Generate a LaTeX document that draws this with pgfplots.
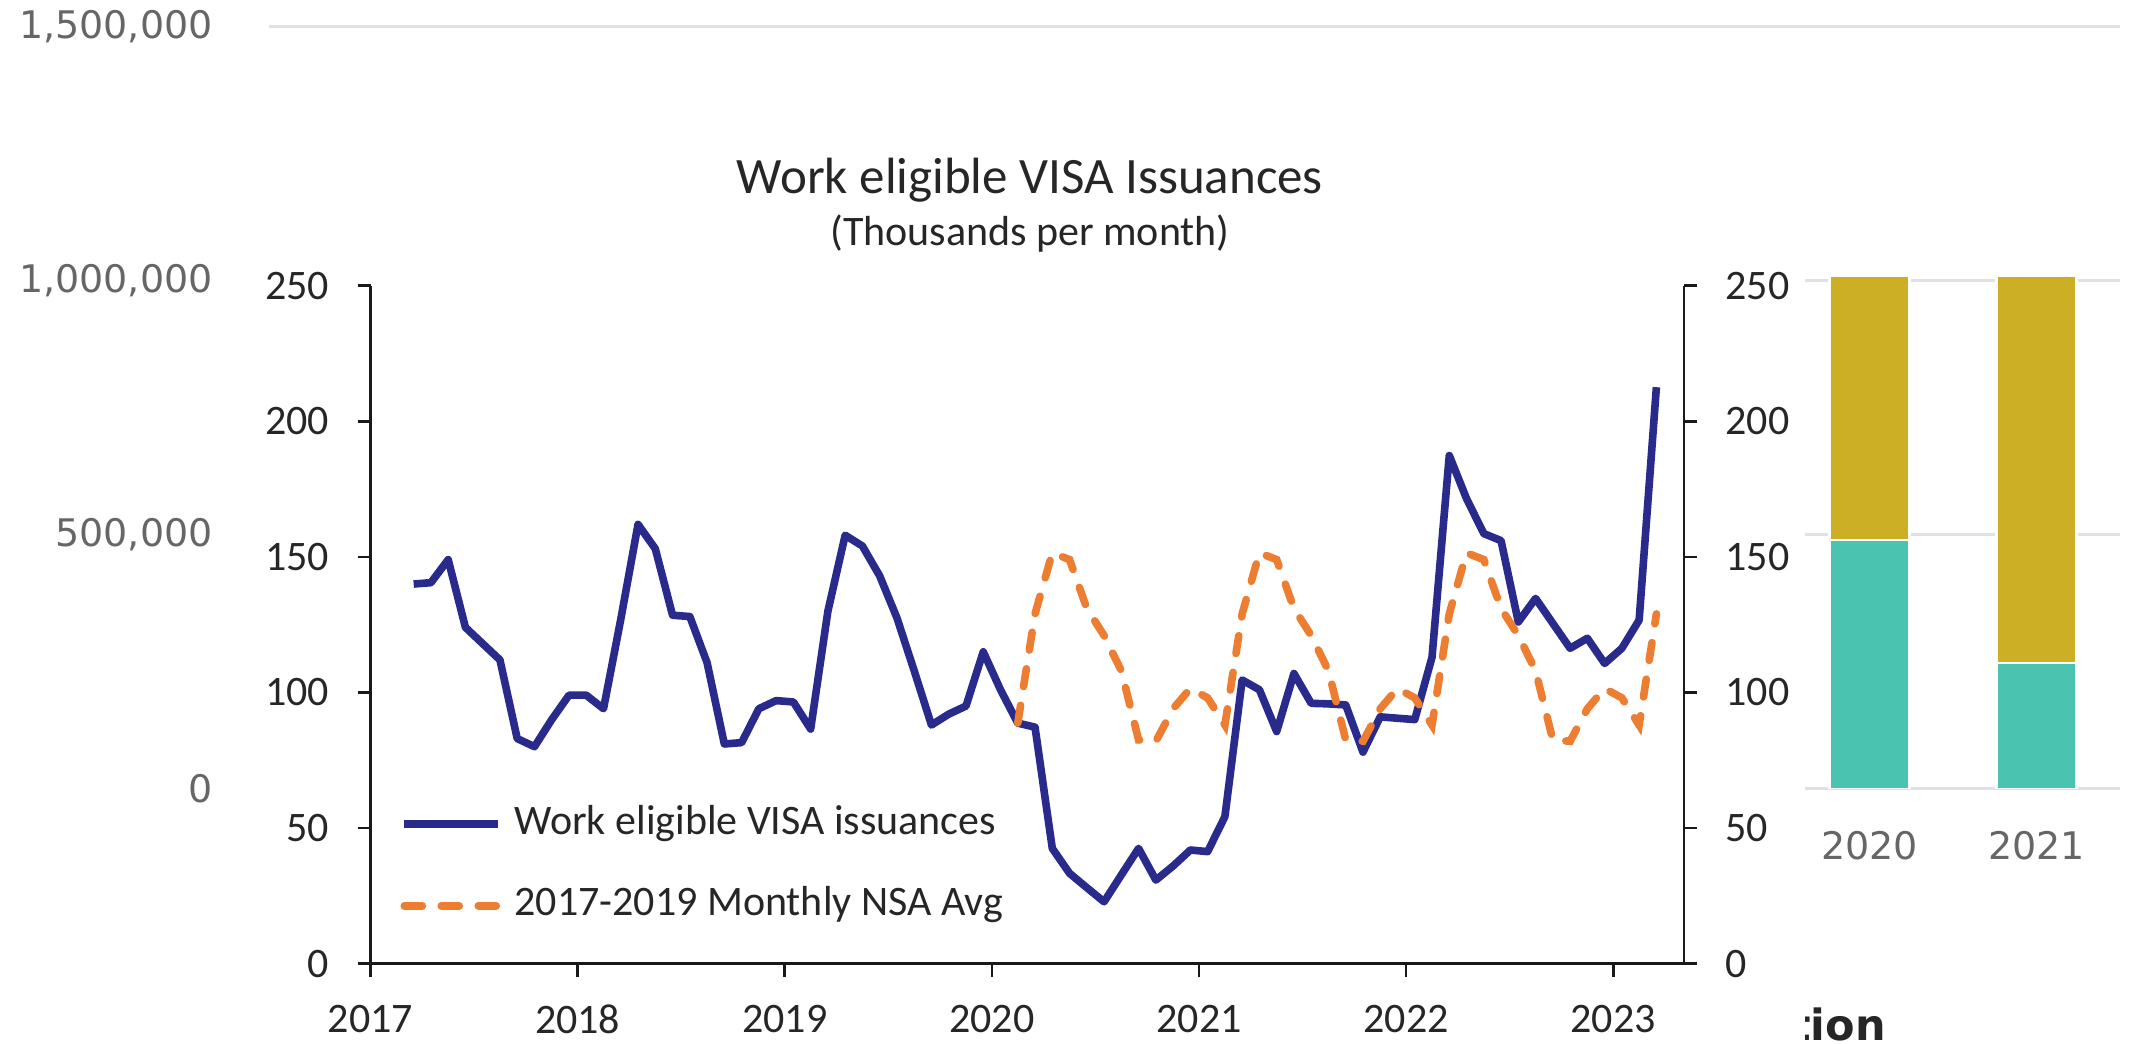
\documentclass[border=0pt]{standalone}
\usepackage{fontspec}
\usepackage{pgfplots}
\pgfplotsset{compat=1.18}
\newfontfamily\calib{Carlito}
\newfontfamily\dejavu{DejaVu Sans}
\definecolor{navyline}{RGB}{40,42,140}
\definecolor{orangeline}{RGB}{237,125,49}
\definecolor{goldbar}{RGB}{205,175,37}
\definecolor{tealbar}{RGB}{74,196,177}
\definecolor{gridgray}{RGB}{224,224,230}
\definecolor{labgray}{RGB}{102,102,102}

% monthly values, x = months since Jan 2017 (mid-month)
\pgfplotstableread{
x y
2.5 140
3.5 140.5
4.5 149
5.5 124
6.5 118
7.5 112
8.5 83
9.5 80
10.5 90
11.5 99
12.5 99
13.5 94
14.5 127
15.5 162
16.5 153
17.5 128.5
18.5 128
19.5 111
20.5 81
21.5 81.5
22.5 94
23.5 97
24.5 96.5
25.5 86.5
26.5 130
27.5 158
28.5 154
29.5 143
30.5 127.5
31.5 108
32.5 88
33.5 92
34.5 95
35.5 115
36.5 101
37.5 88.7
38.5 87.2
39.5 42.5
40.5 33.3
41.5 28
42.5 22.8
43.5 32.7
44.5 42.5
45.5 30.8
46.5 36
47.5 41.9
48.5 41.3
49.5 54.2
50.5 104.6
51.5 101
52.5 85.6
53.5 107
54.5 96
55.5 95.8
56.5 95.4
57.5 78
58.5 91
59.5 90.5
60.5 90
61.5 113
62.5 187.4
63.5 171.5
64.5 158.6
65.5 156
66.5 126
67.5 134.7
68.5 125.5
69.5 116.3
70.5 120
71.5 110.7
72.5 116.3
73.5 126.7
74.5 212.6
}\visas

\pgfplotstableread{
x y
37.5 88.7
38.5 129
39.5 151.5
40.5 149
41.5 131
42.5 121
43.5 108
44.5 82.5
45.5 82
46.5 94
47.5 101.5
48.5 98
49.5 88
50.5 129
51.5 151.5
52.5 149
53.5 131
54.5 121
55.5 108
56.5 82.5
57.5 82
58.5 94
59.5 101.5
60.5 98
61.5 88
62.5 129
63.5 151.5
64.5 149
65.5 131
66.5 121
67.5 108
68.5 82.5
69.5 82
70.5 94
71.5 101.5
72.5 98
73.5 88
74.5 129
}\avg

\begin{document}
\begin{tikzpicture}
\useasboundingbox (0,0) rectangle (1067pt,521.5pt);

% chart in the background
\begin{axis}[
  at={(134.5pt,127pt)}, anchor=south west, scale only axis,
  width=925.5pt, height=381pt,
  xmin=2010.42, xmax=2021.5, ymin=0, ymax=1500000,
  ybar stacked, bar width=40pt,
  axis line style={draw=none}, major tick length=0pt,
  scaled y ticks=false,
  ytick={0,500000,1000000,1500000},
  yticklabels={0,{500,000},{1,000,000},{1,500,000}},
  xtick={2020,2021}, xticklabels={2020,2021},
  ymajorgrids, major grid style={gridgray, line width=1.5pt},
  tick label style={font=\dejavu\fontsize{19}{22}\selectfont, text=labgray, inner sep=0pt},
  yticklabel style={anchor=east, xshift=-28pt},
  xticklabel style={anchor=north, yshift=-21pt},
]
\addplot[fill=tealbar, draw=white, line width=1.2pt] coordinates {(2020,489600) (2021,248000)};
\addplot[fill=goldbar, draw=white, line width=1.2pt] coordinates {(2020,520400) (2021,762000)};
\end{axis}

\node[anchor=base west, font=\dejavu\bfseries\fontsize{21.5}{25}\selectfont, text=black!85, inner sep=0pt] at (895pt,1.5pt) {tion};

% pasted line chart
\fill[white] (117.5pt,0pt) rectangle (902.5pt,491.5pt);

\node[anchor=base, font=\calib\fontsize{25.5}{30}\selectfont, text=black!85] at (515pt,424.8pt) {Work eligible VISA Issuances};
\node[anchor=base, font=\calib\fontsize{21}{25}\selectfont, text=black!85] at (515pt,398.5pt) {(Thousands per month)};

\begin{axis}[
  at={(185.25pt,39.7pt)}, anchor=south west, scale only axis,
  width=656.75pt, height=338.9pt,
  xmin=0, xmax=76.1, ymin=0, ymax=250,
  axis x line*=bottom, axis y line*=left,
  axis line style={-, line width=1.3pt, black!90},
  tick align=outside, major tick length=6.5pt,
  tick style={line width=1.3pt, black!90},
  xtick={0,12,...,72}, xticklabels={2017,2018,2019,2020,2021,2022,2023},
  ytick={0,50,...,250},
  /pgf/number format/assume math mode=true,
  tick label style={font=\calib\fontsize{21}{25}\selectfont, text=black!85, inner sep=0pt},
  yticklabel style={anchor=east, xshift=-14pt},
  xticklabel style={anchor=north, yshift=-14pt},
  legend style={draw=none, fill=none, inner sep=0pt,
    at={(axis description cs:0.0225,0.236)}, anchor=north west,
    nodes={inner sep=0pt, text height=15pt, text depth=5pt,
      font=\calib\fontsize{21}{25}\selectfont, text=black!85},
    row sep=20.85pt, column sep=6.2pt},
  legend cell align=left,
  legend image code/.code={\draw[#1] (2pt,0pt) -- (49pt,0pt);},
]
\addplot[navyline, line width=3.8pt, line join=round] table {\visas};
\addlegendentry{Work eligible VISA issuances}
\addplot[orangeline, line width=3.8pt, line cap=round, dash pattern=on 9pt off 9.5pt] table {\avg};
\addlegendentry{2017-2019 Monthly NSA Avg}
\end{axis}

\begin{axis}[
  at={(185.25pt,39.7pt)}, anchor=south west, scale only axis,
  width=656.75pt, height=338.9pt,
  xmin=0, xmax=76.1, ymin=0, ymax=250,
  axis x line=none, axis y line*=right,
  axis line style={-, line width=1.3pt, black!90},
  tick align=outside, major tick length=6.5pt,
  tick style={line width=1.3pt, black!90},
  ytick={0,50,...,250},
  /pgf/number format/assume math mode=true,
  tick label style={font=\calib\fontsize{21}{25}\selectfont, text=black!85, inner sep=0pt},
  yticklabel style={anchor=west, xshift=14pt},
]
\end{axis}
\end{tikzpicture}
\end{document}
